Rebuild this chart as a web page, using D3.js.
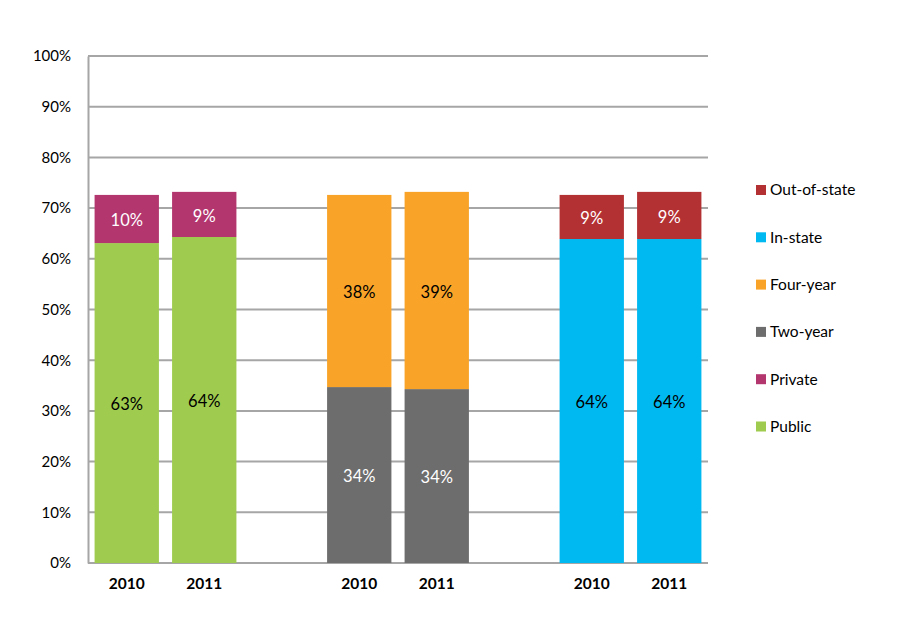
<!DOCTYPE html>
<html>
<head>
<meta charset="utf-8">
<script src="https://cdnjs.cloudflare.com/ajax/libs/d3/7.8.5/d3.min.js"></script>
<style>
  body { margin: 0; background: #fff; }
  text { font-family: Lato, "Open Sans", sans-serif; }
</style>
</head>
<body>
<div id="graph-area"></div>
<script>
// slots on the category axis, blanks separate the three groups
var slots = ["a2010", "a2011", "gap1", "b2010", "b2011", "gap2", "c2010", "c2011"];
var years = ["2010", "2011", "", "2010", "2011", "", "2010", "2011"];

// bottom segment and top segment of each bar (fractions)
var bottomValues = [0.631, 0.643, 0.347, 0.343, 0.639, 0.639];
var topValues = [0.095, 0.089, 0.379, 0.389, 0.087, 0.093];
var bottomLabels = ["63%", "64%", "34%", "34%", "64%", "64%"];
var topLabels = ["10%", "9%", "38%", "39%", "9%", "9%"];
var barSlots = ["a2010", "a2011", "b2010", "b2011", "c2010", "c2011"];
var bottomSeries = ["Public", "Public", "Two-year", "Two-year", "In-state", "In-state"];
var topSeries = ["Private", "Private", "Four-year", "Four-year", "Out-of-state", "Out-of-state"];

var legendNames = ["Out-of-state", "In-state", "Four-year", "Two-year", "Private", "Public"];
var yTicks = [0, 0.1, 0.2, 0.3, 0.4, 0.5, 0.6, 0.7, 0.8, 0.9, 1];

var color = d3.scaleOrdinal()
    .domain(["Public", "Private", "Two-year", "Four-year", "In-state", "Out-of-state"])
    .range(["#9fcc4e", "#b3366f", "#6d6d6d", "#f9a428", "#00b9f1", "#b43133"]);

var labelColor = {
    "Public": "#000", "Private": "#fff", "Two-year": "#fff",
    "Four-year": "#000", "In-state": "#000", "Out-of-state": "#fff"
};

var margin = {left: 88, top: 56},
    plotW = 620,
    plotH = 507;

var svg = d3.select("#graph-area").append("svg")
    .attr("width", 900)
    .attr("height", 625);

var g = svg.append("g")
    .attr("transform", "translate(" + margin.left + "," + margin.top + ")");

var x = d3.scaleBand()
    .domain(slots)
    .range([0, plotW])
    .paddingInner(0.17)
    .paddingOuter(0.085);

var y = d3.scaleLinear()
    .domain([0, 1])
    .range([plotH, 0]);

// gridlines
g.selectAll(".grid")
    .data(yTicks)
    .enter().append("line")
    .attr("x1", 0)
    .attr("x2", plotW)
    .attr("y1", function(d) { return y(d); })
    .attr("y2", function(d) { return y(d); })
    .attr("stroke", "#a6a6a6")
    .attr("stroke-width", 2);

// y axis labels
var yAxis = d3.axisLeft(y)
    .tickValues(yTicks)
    .tickFormat(d3.format(".0%"))
    .tickSize(0)
    .tickPadding(17);

var ya = g.append("g").call(yAxis);
ya.select(".domain").attr("stroke", "#a6a6a6").attr("stroke-width", 2);
ya.selectAll("text")
    .attr("font-size", "15px")
    .attr("fill", "#000")
    .style("font-family", "Lato, sans-serif");

// x axis labels
var xAxis = d3.axisBottom(x)
    .tickFormat(function(d, i) { return years[i]; })
    .tickSize(0)
    .tickPadding(15);

var xa = g.append("g")
    .attr("transform", "translate(0," + plotH + ")")
    .call(xAxis);
xa.select(".domain").remove();
xa.selectAll("text")
    .attr("font-size", "15.5px")
    .attr("font-weight", "bold")
    .attr("fill", "#000")
    .style("font-family", "Lato, sans-serif");

// bars
barSlots.forEach(function(s, i) {
    var b = bottomValues[i], t = topValues[i];

    g.append("rect")
        .attr("x", x(s))
        .attr("width", x.bandwidth())
        .attr("y", y(b))
        .attr("height", y(0) - y(b))
        .attr("fill", color(bottomSeries[i]));

    g.append("rect")
        .attr("x", x(s))
        .attr("width", x.bandwidth())
        .attr("y", y(b + t))
        .attr("height", y(b) - y(b + t))
        .attr("fill", color(topSeries[i]));

    g.append("text")
        .attr("x", x(s) + x.bandwidth() / 2)
        .attr("y", y(b / 2))
        .attr("dy", "0.45em")
        .attr("text-anchor", "middle")
        .attr("font-size", "16.5px")
        .attr("fill", labelColor[bottomSeries[i]])
        .text(bottomLabels[i]);

    g.append("text")
        .attr("x", x(s) + x.bandwidth() / 2)
        .attr("y", y(b + t / 2))
        .attr("dy", "0.45em")
        .attr("text-anchor", "middle")
        .attr("font-size", "16.5px")
        .attr("fill", labelColor[topSeries[i]])
        .text(topLabels[i]);
});

// legend
var legend = svg.append("g")
    .attr("transform", "translate(756,185)");

var items = legend.selectAll(".item")
    .data(legendNames)
    .enter().append("g")
    .attr("transform", function(d, i) { return "translate(0," + (i * 47.3) + ")"; });

items.append("rect")
    .attr("width", 10)
    .attr("height", 10)
    .attr("fill", function(d) { return color(d); });

items.append("text")
    .attr("x", 14)
    .attr("y", 5)
    .attr("dy", "0.35em")
    .attr("font-size", "15.5px")
    .attr("fill", "#000")
    .text(function(d) { return d; });
</script>
</body>
</html>
